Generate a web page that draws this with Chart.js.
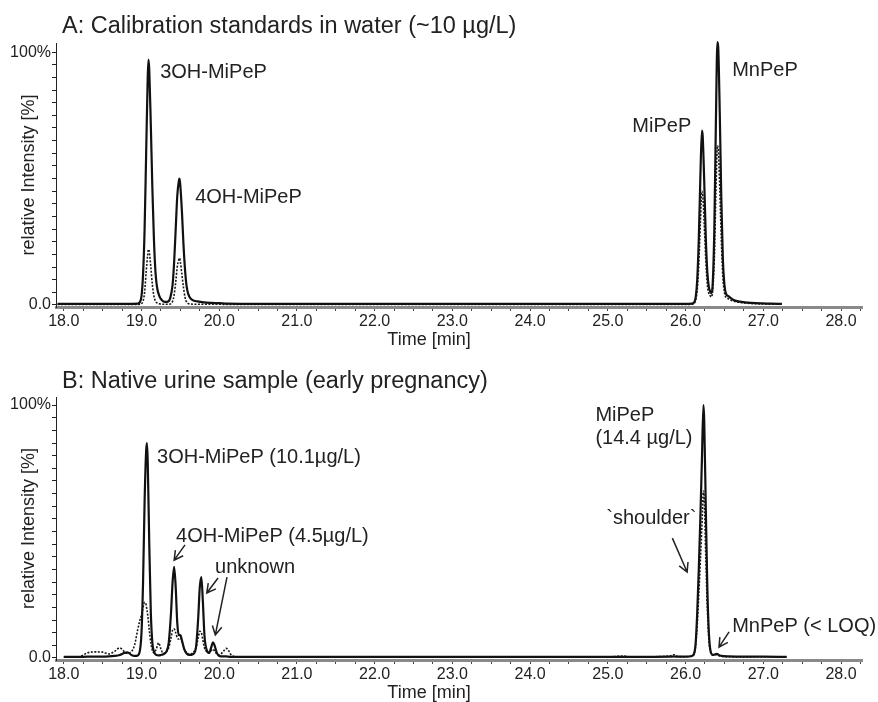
<!DOCTYPE html>
<html>
<head>
<meta charset="utf-8">
<script src="https://cdn.jsdelivr.net/npm/chart.js@4"></script>
<style>
  body { margin: 0; background: #fff; }
  #wrap { position: relative; width: 878px; height: 702px; }
  canvas { position: absolute; left: 0; }
</style>
</head>
<body>
<div id="wrap">
  <canvas id="chartA" width="878" height="351" style="top:0"></canvas>
  <canvas id="chartB" width="878" height="351" style="top:351px"></canvas>
</div>
<script>
// --- panel A: calibration standards (time [min], relative intensity [%])
const timeA = [17.92, 18.2, 18.5, 18.8, 18.95, 18.98, 19.0, 19.02, 19.04, 19.06, 19.08, 19.09, 19.1, 19.12, 19.14, 19.16, 19.18, 19.2, 19.23, 19.26, 19.3, 19.34,
  19.37, 19.4, 19.42, 19.44, 19.46, 19.48, 19.49, 19.5, 19.52, 19.54, 19.56, 19.58, 19.6, 19.63, 19.67, 19.72, 19.8, 19.9, 20.0, 20.1,
  20.5, 21.0, 22.0, 23.0, 24.0, 25.0, 25.5, 26.0, 26.08, 26.11, 26.13, 26.15, 26.17, 26.19, 26.21, 26.22, 26.24, 26.26, 26.28, 26.3, 26.32, 26.33,
  26.35, 26.37, 26.39, 26.41, 26.42, 26.44, 26.46, 26.48, 26.5, 26.52, 26.55, 26.58, 26.62, 26.7, 26.8, 26.9, 27.0, 27.1, 27.24];
const solidA = [0.4, 0.4, 0.4, 0.4, 0.5, 1.2, 3.5, 12, 30, 60, 90, 97, 93, 71, 46, 26, 13, 7, 3.5, 2, 1.2, 1.3,
  2.8, 8, 17, 30, 43, 49, 50, 47, 37, 24, 14, 7.5, 4.5, 2.6, 1.8, 1.4, 1.0, 0.8, 0.7, 0.5,
  0.4, 0.4, 0.4, 0.4, 0.4, 0.4, 0.4, 0.4, 0.5, 1.0, 3, 10, 26, 50, 69, 67, 49, 27, 13, 7, 5, 4.7,
  9, 30, 72, 104, 102, 76, 42, 18, 8, 4.5, 3.5, 2.8, 2.0, 1.3, 0.9, 0.7, 0.6, 0.5, 0.4];
const dottedA = [0.2, 0.2, 0.2, 0.2, 0.2, 0.3, 0.5, 1.5, 5, 13, 20, 22, 21, 15, 8, 3.5, 1.5, 0.8, 0.5, 0.3, 0.3, 0.3,
  0.4, 1.5, 4, 9, 15, 18, 18.5, 17, 12, 7, 3, 1.2, 0.6, 0.4, 0.3, 0.3, 0.3, 0.3, 0.3, 0.2,
  0.2, 0.2, 0.2, 0.2, 0.2, 0.2, 0.2, 0.2, 0.3, 0.6, 2, 6, 16, 32, 45, 44, 32, 18, 8, 4.5, 3.5, 3.2,
  6, 18, 44, 63, 62, 46, 26, 11, 5, 3, 2.5, 2, 1.5, 1.0, 0.7, 0.5, 0.4, 0.3, 0.3];

// --- panel B: native urine sample
const timeB = [18.0, 18.2, 18.3, 18.4, 18.5, 18.58, 18.65, 18.72, 18.78, 18.82, 18.87, 18.91, 18.95, 18.98, 19.0, 19.02, 19.04, 19.06, 19.07, 19.08,
  19.1, 19.12, 19.14, 19.16, 19.19, 19.22, 19.25, 19.28, 19.32, 19.35, 19.38, 19.4, 19.42, 19.44, 19.46, 19.48, 19.5, 19.52, 19.55, 19.58,
  19.62, 19.66, 19.7, 19.73, 19.75, 19.77, 19.79, 19.81, 19.84, 19.87, 19.9, 19.92, 19.94, 19.97, 20.0, 20.05, 20.09, 20.12, 20.16, 20.25,
  20.5, 21.0, 22.0, 23.0, 24.0, 25.0, 25.2, 25.3, 25.8, 25.85, 25.9, 26.0, 26.08, 26.11, 26.13, 26.15, 26.17, 26.19, 26.21, 26.23, 26.24,
  26.26, 26.28, 26.3, 26.32, 26.35, 26.4, 26.44, 26.55, 26.8, 27.0, 27.3];
const solidB = [0.4, 0.4, 0.5, 0.5, 0.5, 0.6, 0.8, 1.2, 2.0, 2.2, 1.2, 0.8, 1.0, 3, 10, 30, 62, 82, 85, 78,
  45, 18, 6, 2.5, 1.2, 1.0, 1.2, 1.5, 2.5, 6, 18, 30, 36, 28, 14, 9, 9, 7, 3.5, 1.8,
  1.2, 1.5, 4, 16, 28, 32, 22, 9, 3, 2, 4.5, 6.2, 5, 2, 0.8, 0.6, 0.6, 0.5, 0.4, 0.4,
  0.4, 0.4, 0.4, 0.4, 0.4, 0.4, 0.4, 0.4, 0.5, 0.6, 0.5, 0.5, 0.8, 1.8, 6, 18, 35, 55, 78, 100, 94,
  60, 28, 10, 3, 1.2, 1.6, 1.0, 0.6, 0.5, 0.5, 0.4];
const dottedB = [0.4, 0.5, 2.0, 2.4, 2.3, 1.6, 2.5, 4.0, 2.5, 1.8, 2.5, 5, 11, 15, 17, 20, 22, 21, 19, 17,
  11, 6, 3, 2, 3.5, 6, 3.5, 1.8, 2.5, 4, 8, 11, 11.5, 10, 8, 7.5, 8, 6.5, 3.5, 2,
  1.5, 2, 4, 8, 10.5, 10, 7, 4, 2.5, 2, 3, 3.5, 2.8, 1.5, 1.2, 2.5, 3.8, 3, 1, 0.4,
  0.4, 0.4, 0.4, 0.4, 0.4, 0.4, 0.8, 0.4, 0.8, 1.3, 0.6, 0.5, 0.7, 1.5, 5, 13, 25, 38, 52, 66, 63,
  40, 20, 7, 2.5, 1.2, 1.3, 0.8, 0.5, 0.4, 0.5, 0.4];

// axis ticks
const xLabels = ['18.0', '19.0', '20.0', '21.0', '22.0', '23.0', '24.0', '25.0', '26.0', '27.0', '28.0'];
const yLabels = ['0.0', '100%'];

// peak labels (left edge, vertical centre, in data units)
const labelsA = [
  { text: '3OH-MiPeP', t: 19.24, v: 92.1 },
  { text: '4OH-MiPeP', t: 19.69, v: 42.7 },
  { text: 'MiPeP', t: 25.315, v: 70.4 },
  { text: 'MnPeP', t: 26.6, v: 92.9 }
];
const labelsB = [
  { text: '3OH-MiPeP (10.1µg/L)', t: 19.2, v: 79.4 },
  { text: '4OH-MiPeP (4.5µg/L)', t: 19.445, v: 48.2 },
  { text: 'unknown', t: 19.946, v: 35.6 },
  { text: 'MiPeP', t: 24.84, v: 96.0 },
  { text: '(14.4 µg/L)', t: 24.84, v: 86.6 },
  { text: '`shoulder`', t: 24.98, v: 55.3 },
  { text: 'MnPeP (< LOQ)', t: 26.6, v: 12.3 }
];
const arrowsB = [
  { t0: 19.56, v0: 44.7, t1: 19.42, v1: 38.7 },
  { t0: 19.985, v0: 31.6, t1: 19.84, v1: 25.7 },
  { t0: 20.1, v0: 32.0, t1: 19.95, v1: 9.1 },
  { t0: 25.83, v0: 47.4, t1: 26.02, v1: 34.0 },
  { t0: 26.56, v0: 10.3, t1: 26.43, v1: 4.3 }
];

const FONT = '"Liberation Sans", Arial, sans-serif';
const pts = (t, v) => t.map((x, i) => ({ x, y: v[i] }));

const notesPlugin = {
  id: 'notes',
  afterDatasetsDraw(chart, args, opts) {
    const { ctx } = chart;
    const x = chart.scales.x, y = chart.scales.y;
    ctx.save();
    ctx.fillStyle = '#222';
    ctx.textAlign = 'left';
    ctx.textBaseline = 'alphabetic';
    ctx.font = '23.5px ' + FONT;
    ctx.fillText(opts.title, 62, opts.titleBase);
    ctx.textAlign = 'center';
    ctx.textBaseline = 'middle';
    ctx.font = '18px ' + FONT;
    ctx.fillText('Time [min]', 429, opts.timeY);
    ctx.textAlign = 'left';
    ctx.font = '20px ' + FONT;
    opts.labels.forEach(l => ctx.fillText(l.text, x.getPixelForValue(l.t), y.getPixelForValue(l.v)));
    ctx.strokeStyle = '#222';
    ctx.lineWidth = 1.5;
    opts.arrows.forEach(a => {
      const x0 = x.getPixelForValue(a.t0), y0 = y.getPixelForValue(a.v0);
      const x1 = x.getPixelForValue(a.t1), y1 = y.getPixelForValue(a.v1);
      const ang = Math.atan2(y1 - y0, x1 - x0);
      ctx.beginPath();
      ctx.moveTo(x0, y0);
      ctx.lineTo(x1, y1);
      ctx.moveTo(x1 - 10 * Math.cos(ang - 0.5), y1 - 10 * Math.sin(ang - 0.5));
      ctx.lineTo(x1, y1);
      ctx.lineTo(x1 - 10 * Math.cos(ang + 0.5), y1 - 10 * Math.sin(ang + 0.5));
      ctx.stroke();
    });
    ctx.restore();
  }
};

function makeChart(id, time, solid, dotted, opts) {
  const ctx = document.getElementById(id).getContext('2d');
  return new Chart(ctx, {
    type: 'line',
    data: {
      datasets: [{
        data: pts(time, solid),
        borderColor: '#111',
        borderWidth: 2.2,
        pointRadius: 0,
        cubicInterpolationMode: 'monotone',
        clip: false
      }, {
        data: pts(time, dotted),
        borderColor: '#1a1a1a',
        borderWidth: 1.6,
        borderDash: [2, 1.5],
        pointRadius: 0,
        cubicInterpolationMode: 'monotone',
        clip: false
      }]
    },
    options: {
      responsive: false,
      animation: false,
      layout: { padding: { top: opts.top, right: 16, left: 0, bottom: 0 } },
      plugins: {
        legend: { display: false },
        tooltip: { enabled: false },
        notes: opts.notes
      },
      scales: {
        x: {
          type: 'linear',
          min: 17.9,
          max: 28.27,
          afterFit: s => { s.height = opts.xHeight; },
          afterBuildTicks: s => {
            const t = [];
            for (let v = 18; v <= 28.25; v += 0.25) t.push({ value: v });
            s.ticks = t;
          },
          ticks: {
            autoSkip: false,
            maxRotation: 0,
            padding: 1,
            color: '#222',
            font: { family: FONT, size: 16 },
            callback: v => Number.isInteger(v) ? xLabels[v - 18] : ''
          },
          grid: { drawOnChartArea: false, tickLength: 4, color: '#444' },
          border: { color: '#8a8a8a', width: 3 }
        },
        y: {
          min: -0.8,
          max: opts.yMax,
          afterFit: s => { s.width = 56; },
          afterBuildTicks: s => {
            const t = [];
            for (let v = 0; v <= 100; v += 5) t.push({ value: v });
            s.ticks = t;
          },
          ticks: {
            autoSkip: false,
            padding: 1,
            color: '#222',
            font: { family: FONT, size: 16 },
            callback: v => v === 0 ? yLabels[0] : (v === 100 ? yLabels[1] : '')
          },
          grid: { drawOnChartArea: false, tickLength: 4, color: '#222' },
          border: { color: '#222', width: 1 },
          title: {
            display: true,
            text: 'relative Intensity [%]',
            color: '#222',
            font: { family: FONT, size: 18 },
            padding: { top: 18, bottom: 0 }
          }
        }
      }
    },
    plugins: [notesPlugin]
  });
}

makeChart('chartA', timeA, solidA, dottedA, {
  top: 43, xHeight: 44, yMax: 103.6,
  notes: { title: 'A: Calibration standards in water (~10 µg/L)', titleBase: 32.5, timeY: 340, labels: labelsA, arrows: [] }
});
makeChart('chartB', timeB, solidB, dottedB, {
  top: 46, xHeight: 42, yMax: 103.2,
  notes: { title: 'B: Native urine sample (early pregnancy)', titleBase: 37.3, timeY: 342, labels: labelsB, arrows: arrowsB }
});
</script>
</body>
</html>
